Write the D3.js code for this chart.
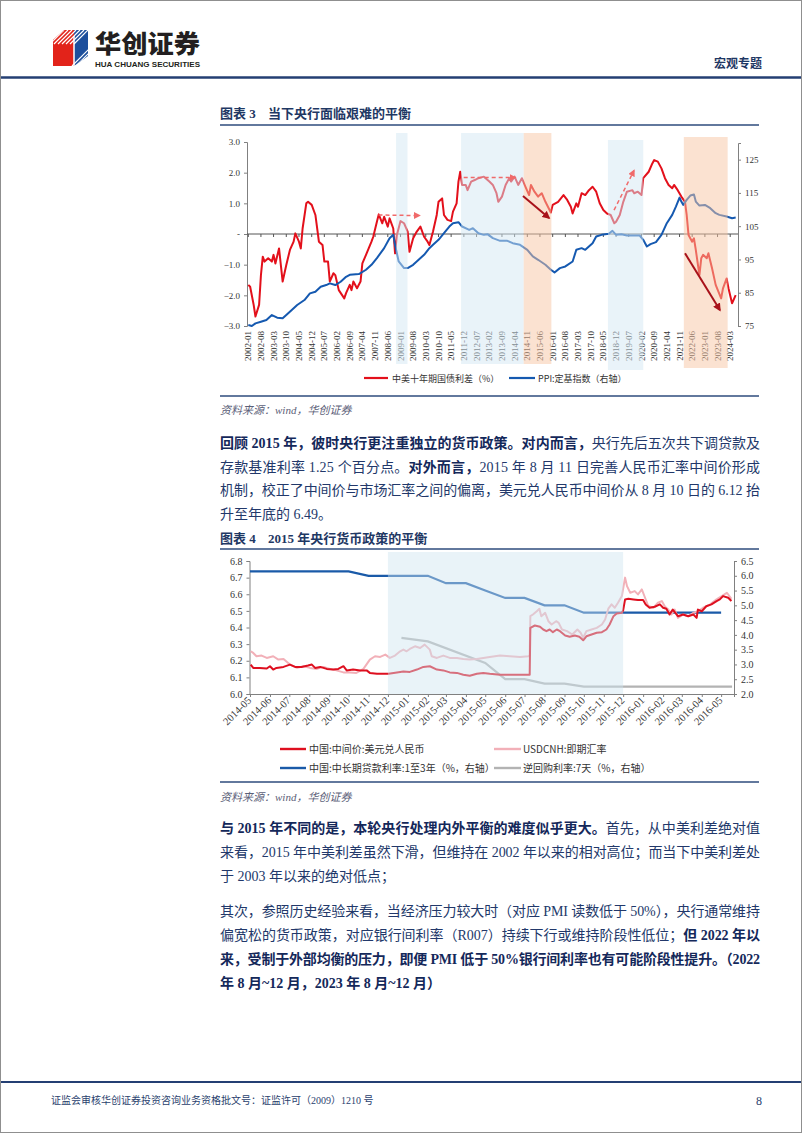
<!DOCTYPE html>
<html><head><meta charset="utf-8">
<script src="https://cdn.jsdelivr.net/npm/d3@7/dist/d3.min.js"></script>
<style>body{margin:0;background:#fff}svg{display:block}</style>
</head><body><svg id="page" width="802" height="1133"></svg>
<script>
// ---------------- Chart 1 data (图表3) ----------------
const spreadMonths = ["2002-01","2002-02","2002-04","2002-05","2002-07","2002-08","2002-09","2002-10","2002-12","2003-02","2003-03","2003-04","2003-06","2003-08","2003-10","2003-12","2004-02","2004-03","2004-05","2004-06","2004-07","2004-09","2004-10","2004-12","2005-02","2005-04","2005-06","2005-07","2005-09","2005-10","2005-12","2006-01","2006-03","2006-06","2006-07","2006-09","2006-10","2006-11","2007-01","2007-03","2007-04","2007-06","2007-09","2007-10","2007-12","2008-01","2008-03","2008-04","2008-06","2008-07","2008-09","2008-10","2008-11","2009-01","2009-03","2009-05","2009-06","2009-08","2009-10","2009-12","2010-02","2010-04","2010-05","2010-07","2010-09","2010-10","2010-12","2011-01","2011-03","2011-05","2011-06","2011-08","2011-09","2011-10","2011-11","2012-01","2012-02","2012-04","2012-06","2012-08","2012-11","2013-02","2013-04","2013-06","2013-07","2013-09","2013-11","2014-01","2014-02","2014-04","2014-06","2014-08","2014-10","2014-12","2015-01","2015-03","2015-05","2015-07","2015-09","2015-12","2016-01","2016-04","2016-07","2016-09","2016-11","2016-12","2017-02","2017-03","2017-05","2017-07","2017-09","2017-11","2018-01","2018-03","2018-05","2018-07","2018-09","2018-11","2018-12","2019-02","2019-04","2019-06","2019-09","2019-10","2019-12","2020-02","2020-03","2020-06","2020-08","2020-09","2020-11","2021-01","2021-03","2021-05","2021-07","2021-08","2021-10","2021-12","2022-02","2022-03","2022-04","2022-06","2022-07","2022-08","2022-10","2022-11","2022-12","2023-02","2023-03","2023-05","2023-07","2023-10","2023-11","2024-01","2024-02","2024-04","2024-06"];
const spreadValues = [-1.66,-1.72,-2.31,-2.69,-2.31,-1.34,-0.74,-0.90,-0.79,-0.90,-0.68,-0.96,-0.47,-1.55,-1.01,-0.52,-0.25,0.02,-0.25,-0.47,0.18,1.00,1.05,0.95,0.62,-0.25,-0.36,-0.90,-0.90,-1.55,-1.28,-1.34,-1.83,-2.10,-1.93,-1.66,-1.83,-1.55,-1.77,-1.55,-0.96,-0.68,-0.25,-0.09,0.40,0.64,0.35,0.56,0.24,0.51,0.18,-0.63,-0.03,0.42,0.35,0.08,-0.58,-0.14,0.08,0.24,-0.09,-0.25,-0.36,0.08,0.62,1.05,1.16,0.62,0.46,0.42,0.73,1.00,1.71,2.03,1.60,1.60,1.43,1.71,1.76,1.82,1.87,1.71,1.60,1.33,1.05,1.22,1.60,1.82,1.71,1.87,1.60,1.82,1.54,1.27,1.60,1.38,1.22,1.33,1.05,0.70,0.95,1.05,1.27,1.11,0.89,0.67,1.00,0.89,1.33,1.27,1.43,1.54,1.38,1.00,0.78,0.67,0.62,0.35,0.40,0.62,1.05,1.38,1.43,1.33,1.38,1.27,1.82,2.03,2.30,2.41,2.36,2.14,1.82,1.60,1.49,1.60,1.43,1.22,1.05,0.62,-0.03,-0.25,-0.14,-0.52,-1.34,-0.79,-0.68,-0.79,-0.63,-1.12,-1.66,-2.10,-1.77,-1.45,-1.77,-2.26,-1.99];

const ppiMonths = ["2002-01","2002-03","2002-05","2002-08","2002-11","2003-02","2003-05","2003-08","2003-10","2004-01","2004-04","2004-08","2004-11","2005-02","2005-05","2005-08","2005-10","2006-01","2006-04","2006-07","2006-09","2007-02","2007-06","2007-09","2007-12","2008-04","2008-07","2008-09","2008-10","2008-12","2009-03","2009-05","2009-08","2009-11","2010-02","2010-05","2010-07","2010-10","2011-01","2011-04","2011-06","2011-09","2011-11","2012-03","2012-05","2012-08","2012-11","2013-01","2013-04","2013-08","2013-12","2014-03","2014-07","2014-11","2015-02","2015-05","2015-09","2015-12","2016-02","2016-05","2016-08","2016-12","2017-02","2017-05","2017-07","2017-11","2018-01","2018-04","2018-08","2018-10","2018-12","2019-03","2019-06","2019-10","2020-01","2020-03","2020-05","2020-07","2020-10","2021-01","2021-04","2021-07","2021-09","2021-11","2021-12","2022-01","2022-03","2022-05","2022-07","2022-08","2022-10","2023-01","2023-04","2023-07","2023-09","2024-01","2024-04","2024-06"];
const ppiValues = [75.3,75.0,75.8,76.3,76.8,78.3,77.5,77.3,78.3,79.8,81.3,82.8,84.8,85.3,86.8,87.3,87.8,87.3,88.3,89.8,90.4,90.6,91.9,93.4,95.4,98.4,101.4,102.4,99.4,94.4,92.4,92.4,93.4,94.9,96.4,98.4,99.4,100.9,102.9,104.9,105.9,106.2,104.9,103.9,104.4,102.9,102.4,102.6,101.4,100.6,100.6,99.9,99.4,97.9,95.9,94.9,93.4,91.9,91.1,92.4,92.9,94.4,97.9,98.4,97.9,99.9,101.9,102.4,102.7,103.6,102.4,102.6,102.2,102.2,102.2,100.9,98.9,99.6,100.2,102.4,105.9,108.4,110.9,113.6,112.4,111.4,112.9,114.2,114.5,112.4,111.2,111.4,110.4,108.9,108.4,107.9,107.4,107.6];

const chart1TickLabels = ["2002-01","2002-08","2003-03","2003-10","2004-05","2004-12","2005-07","2006-02","2006-09","2007-04","2007-11","2008-06","2009-01","2009-08","2010-03","2010-10","2011-05","2011-12","2012-07","2013-02","2013-09","2014-04","2014-11","2015-06","2016-01","2016-08","2017-03","2017-10","2018-05","2018-12","2019-07","2020-02","2020-09","2021-04","2021-11","2022-06","2023-01","2023-08","2024-03"];
const leftTicks1 = [-3,-2,-1,0,1,2,3];
const rightTicks1 = [75,85,95,105,115,125];

const shadeStarts = ["2008-10-18","2011-10-15","2014-09-01","2018-07-18","2022-01-12"];
const shadeEnds   = ["2009-04-28","2014-09-01","2015-12-10","2020-03-01","2024-01-18"];
const shadeKinds  = ["blue","blue","orange","blue","orange"];

const arrowFromDates = ["2007-12-28","2011-11-28","2018-10-28","2014-08-20","2022-02-01"];
const arrowFromVals  = [0.62,1.84,0.78,1.24,-0.63];
const arrowToDates   = ["2009-11-15","2014-04-10","2019-09-28","2015-11-01","2023-09-10"];
const arrowToVals    = [0.60,1.84,2.07,0.52,-2.48];
const arrowKinds     = ["dash","dash","dash","solid","solid"];

const legend1 = ["中美十年期国债利差（%）","PPI:定基指数（右轴）"];

// ---------------- Chart 2 data (图表4) ----------------
const cnyDates = ["2014-05-02","2014-05-06","2014-05-16","2014-05-27","2014-06-01","2014-06-06","2014-06-11","2014-06-22","2014-07-02","2014-07-10","2014-07-20","2014-07-30","2014-08-05","2014-08-10","2014-08-18","2014-08-28","2014-09-07","2014-09-15","2014-09-23","2014-09-28","2014-10-08","2014-10-19","2014-10-29","2014-11-03","2014-11-14","2014-11-24","2014-12-02","2014-12-15","2014-12-25","2015-01-04","2015-01-15","2015-01-25","2015-02-04","2015-02-15","2015-02-25","2015-03-07","2015-03-18","2015-03-28","2015-04-07","2015-04-18","2015-04-28","2015-05-08","2015-05-24","2015-06-08","2015-06-24","2015-07-09","2015-07-10","2015-07-17","2015-07-25","2015-07-30","2015-08-04","2015-08-09","2015-08-14","2015-08-20","2015-08-25","2015-09-02","2015-09-09","2015-09-17","2015-09-24","2015-09-30","2015-10-05","2015-10-13","2015-10-21","2015-10-29","2015-11-05","2015-11-10","2015-11-16","2015-11-21","2015-11-29","2015-12-01","2015-12-04","2015-12-09","2015-12-17","2015-12-24","2016-01-01","2016-01-05","2016-01-11","2016-01-19","2016-01-27","2016-02-01","2016-02-06","2016-02-11","2016-02-16","2016-02-24","2016-03-03","2016-03-11","2016-03-19","2016-03-24","2016-03-26","2016-04-01","2016-04-08","2016-04-16","2016-04-24","2016-04-29","2016-05-04","2016-05-12","2016-05-17"];
const cnyValues = [6.177,6.157,6.157,6.153,6.167,6.147,6.157,6.163,6.177,6.163,6.163,6.171,6.177,6.157,6.163,6.151,6.147,6.151,6.167,6.142,6.147,6.142,6.142,6.127,6.122,6.122,6.122,6.130,6.136,6.133,6.147,6.163,6.167,6.147,6.142,6.130,6.127,6.116,6.110,6.122,6.127,6.122,6.116,6.116,6.116,6.116,6.398,6.412,6.404,6.388,6.378,6.388,6.372,6.388,6.378,6.352,6.344,6.352,6.344,6.323,6.347,6.358,6.368,6.372,6.388,6.418,6.468,6.484,6.488,6.504,6.569,6.573,6.569,6.565,6.565,6.539,6.519,6.525,6.539,6.519,6.513,6.478,6.508,6.468,6.478,6.468,6.478,6.458,6.508,6.498,6.528,6.539,6.559,6.569,6.589,6.579,6.559];

const cnhDates = ["2014-05-02","2014-05-06","2014-05-11","2014-05-19","2014-05-27","2014-06-06","2014-06-14","2014-06-22","2014-07-02","2014-07-13","2014-07-23","2014-08-02","2014-08-13","2014-08-23","2014-09-02","2014-09-12","2014-09-23","2014-10-03","2014-10-13","2014-10-24","2014-11-03","2014-11-11","2014-11-19","2014-11-27","2014-12-04","2014-12-12","2014-12-20","2014-12-25","2014-12-30","2015-01-04","2015-01-12","2015-01-20","2015-01-27","2015-02-04","2015-02-07","2015-02-15","2015-02-25","2015-03-07","2015-03-18","2015-03-28","2015-04-07","2015-04-18","2015-04-28","2015-05-08","2015-05-24","2015-06-08","2015-06-24","2015-07-07","2015-07-09","2015-07-10","2015-07-14","2015-07-20","2015-07-24","2015-07-27","2015-08-02","2015-08-07","2015-08-12","2015-08-19","2015-08-23","2015-08-28","2015-09-05","2015-09-13","2015-09-21","2015-09-26","2015-09-30","2015-10-05","2015-10-13","2015-10-21","2015-10-29","2015-11-03","2015-11-08","2015-11-13","2015-11-18","2015-11-23","2015-11-29","2015-12-04","2015-12-07","2015-12-12","2015-12-19","2015-12-24","2015-12-30","2016-01-04","2016-01-09","2016-01-17","2016-01-24","2016-01-30","2016-02-04","2016-02-09","2016-02-14","2016-02-19","2016-02-24","2016-03-03","2016-03-11","2016-03-19","2016-03-26","2016-04-03","2016-04-14","2016-04-24","2016-05-02","2016-05-10","2016-05-17"];
const cnhValues = [6.257,6.247,6.227,6.231,6.217,6.227,6.207,6.211,6.177,6.157,6.167,6.157,6.151,6.163,6.151,6.142,6.130,6.130,6.127,6.151,6.207,6.227,6.223,6.237,6.217,6.231,6.257,6.267,6.257,6.271,6.287,6.277,6.297,6.267,6.227,6.217,6.231,6.217,6.217,6.211,6.207,6.211,6.217,6.223,6.231,6.227,6.223,6.227,6.231,6.468,6.478,6.498,6.513,6.468,6.488,6.438,6.418,6.438,6.428,6.388,6.378,6.358,6.388,6.368,6.338,6.378,6.388,6.398,6.418,6.448,6.513,6.539,6.519,6.549,6.589,6.700,6.649,6.609,6.619,6.599,6.629,6.579,6.529,6.519,6.549,6.559,6.525,6.508,6.478,6.508,6.458,6.478,6.468,6.488,6.498,6.519,6.539,6.569,6.589,6.609,6.573];

const loanDates = ["2014-05-01","2014-06-01","2014-07-01","2014-08-01","2014-09-01","2014-10-01","2014-11-01","2014-12-01","2015-01-01","2015-02-01","2015-03-01","2015-04-01","2015-05-01","2015-06-01","2015-07-01","2015-08-01","2015-09-01","2015-10-01","2015-11-01","2015-12-01","2016-01-01","2016-02-01","2016-03-01","2016-04-01","2016-05-01"];
const loanValues = [6.15,6.15,6.15,6.15,6.15,6.15,6.00,6.00,6.00,6.00,5.75,5.75,5.50,5.25,5.25,5.00,5.00,4.75,4.75,4.75,4.75,4.75,4.75,4.75,4.75];

const repoDates = ["2014-12-22","2015-02-01","2015-05-01","2015-06-01","2015-07-01","2015-08-01","2015-09-01","2015-10-01","2016-05-18"];
const repoValues = [3.90,3.78,3.05,2.50,2.50,2.35,2.35,2.25,2.25];

const chart2TickLabels = ["2014-05","2014-06","2014-07","2014-08","2014-09","2014-10","2014-11","2014-12","2015-01","2015-02","2015-03","2015-04","2015-05","2015-06","2015-07","2015-08","2015-09","2015-10","2015-11","2015-12","2016-01","2016-02","2016-03","2016-04","2016-05"];
const leftTicks2 = [6.0,6.1,6.2,6.3,6.4,6.5,6.6,6.7,6.8];
const rightTicks2 = [2.0,2.5,3.0,3.5,4.0,4.5,5.0,5.5,6.0,6.5];
const shade2Start = "2014-12-01", shade2End = "2015-12-01";
const legend2 = ["中国:中间价:美元兑人民币","USDCNH:即期汇率","中国:中长期贷款利率:1至3年（%，右轴）","逆回购利率:7天（%，右轴）"];

// ---------------- drawing ----------------
const svg = d3.select("#page");
const NAVY = "#1f3864", TEXT = "#22386a", BOLD = "#14285a";
const SERIF = "'Liberation Serif','Noto Sans CJK SC',serif";
const SANS = "'Noto Sans CJK SC',sans-serif";
const pM = d3.timeParse("%Y-%m"), pD = d3.timeParse("%Y-%m-%d");

svg.append("rect").attr("width",802).attr("height",1133).attr("fill","#fff");
svg.append("rect").attr("x",0.5).attr("y",0.5).attr("width",801).attr("height",1132)
  .attr("fill","none").attr("stroke","#8f8f8f");

// header logo
const logo = svg.append("g");
logo.append("path").attr("d","M66,30 L88,30 L88,56 L74,66 L66,66 Z").attr("fill","#1d4f9c");
logo.append("path").attr("d","M53,40 L64,30 L74,30 L74,66 L53,66 Z").attr("fill","#e2231a");
const clip = svg.append("clipPath").attr("id","lc");
clip.append("path").attr("d","M53,40 L64,30 L88,30 L88,56 L74,66 L53,66 Z");
const stripes = logo.append("g").attr("clip-path","url(#lc)");
for (let i=0;i<7;i++){
  stripes.append("line").attr("x1",50+i*4).attr("y1",44).attr("x2",64+i*4).attr("y2",30)
    .attr("stroke","#fff").attr("stroke-width",1.2);
  stripes.append("line").attr("x1",72+i*4).attr("y1",66).attr("x2",90+i*4).attr("y2",48)
    .attr("stroke","#fff").attr("stroke-width",1.2);
}
logo.append("line").attr("x1",74).attr("y1",36).attr("x2",74).attr("y2",66).attr("stroke","#fff").attr("stroke-width",1.5);
svg.append("text").attr("x",95).attr("y",53).attr("font-family",SANS).attr("font-weight",900)
  .attr("font-size",25).attr("fill","#231f20").attr("textLength",105).attr("lengthAdjust","spacingAndGlyphs").text("华创证券");
svg.append("text").attr("x",95).attr("y",66.5).attr("font-family","'Liberation Sans Narrow','Liberation Sans',sans-serif").attr("font-weight","bold")
  .attr("font-size",8).attr("fill","#231f20").attr("textLength",105).attr("lengthAdjust","spacingAndGlyphs").text("HUA CHUANG SECURITIES");
svg.append("text").attr("x",714).attr("y",68).attr("font-family",SANS).attr("font-weight",700)
  .attr("font-size",12).attr("fill",NAVY).text("宏观专题");
svg.append("line").attr("x1",1).attr("x2",801).attr("y1",77.5).attr("y2",77.5).attr("stroke","#243f73").attr("stroke-width",2.5);

function hline(y){ svg.append("line").attr("x1",220).attr("x2",759).attr("y1",y).attr("y2",y).attr("stroke","#2e4b7d").attr("stroke-width",1.5); }
function title(y, num, t){
  svg.append("text").attr("x",220).attr("y",y).attr("font-family",SERIF).attr("font-weight","bold").attr("font-size",13).attr("fill",NAVY).text(num);
  svg.append("text").attr("x",268).attr("y",y).attr("font-family",SERIF).attr("font-weight","bold").attr("font-size",13).attr("fill",NAVY).text(t);
}
function source(y){
  svg.append("text").attr("x",220).attr("y",y).attr("font-family",SERIF).attr("font-style","italic")
    .attr("font-size",11).attr("fill","#5b6078").text("资料来源：wind，华创证券");
}
function para(y, segs, justify){
  const t = svg.append("text").attr("x",220).attr("y",y).attr("font-family",SERIF).attr("font-size",14).attr("fill",TEXT);
  segs.forEach(s=>{ t.append("tspan").attr("font-weight", s[1]?"bold":"normal").attr("fill", s[1]?BOLD:TEXT).text(s[0]); });
  if (justify) t.attr("textLength",540).attr("lengthAdjust","spacing");
}

// ---- Chart 1 ----
title(118,"图表 3","当下央行面临艰难的平衡");
hline(125);
const x1 = d3.scaleTime().domain([pD("2001-12-10"), pD("2024-07-10")]).range([247,738]);
const yL1 = d3.scaleLinear().domain([-3,3]).range([326,142]);
const yR1 = d3.scaleLinear().domain([75,130]).range([326,143]);
const c1 = svg.append("g");
const axC = "#808080";
const gl = c1.append("g").attr("transform","translate(247,0)")
  .call(d3.axisLeft(yL1).tickValues(leftTicks1).tickSize(3).tickPadding(4).tickFormat(d=> d===0?"-":d3.format(".1f")(d)));
const gr = c1.append("g").attr("transform","translate(738,0)")
  .call(d3.axisRight(yR1).tickValues(rightTicks1).tickSize(3).tickPadding(4));
[gl,gr].forEach(g=>{ g.select(".domain").attr("stroke",axC); g.selectAll(".tick line").attr("stroke",axC);
  g.selectAll("text").attr("font-family",SERIF).attr("font-size",9).attr("fill","#333"); });
c1.append("line").attr("x1",247).attr("x2",738).attr("y1",yL1(0)).attr("y2",yL1(0)).attr("stroke","#555").attr("stroke-width",1);
chart1TickLabels.forEach(l=>{
  const x = x1(pM(l));
  c1.append("line").attr("x1",x).attr("x2",x).attr("y1",yL1(0)).attr("y2",yL1(0)+3).attr("stroke","#555");
  c1.append("text").attr("transform",`translate(${x+3},331) rotate(-90)`).attr("text-anchor","end")
    .attr("font-family",SERIF).attr("font-size",9).attr("fill","#333").text(l);
});
const lineSpread = d3.line().x((d,i)=>x1(pM(spreadMonths[i]))).y(d=>yL1(d));
const linePPI = d3.line().x((d,i)=>x1(pM(ppiMonths[i]))).y(d=>yR1(d));
c1.append("path").attr("d",lineSpread(spreadValues)).attr("fill","none").attr("stroke","#e3101b").attr("stroke-width",2).attr("stroke-linejoin","round");
c1.append("path").attr("d",linePPI(ppiValues)).attr("fill","none").attr("stroke","#1559b0").attr("stroke-width",2).attr("stroke-linejoin","round");
const shadeTop = [133,133,133,140,137], shadeBot = [364,364,364,370,368];
shadeStarts.forEach((s,i)=>{
  const xa = x1(pD(s)), xb = x1(pD(shadeEnds[i]));
  c1.append("rect").attr("x",xa).attr("width",xb-xa).attr("y",shadeTop[i]).attr("height",shadeBot[i]-shadeTop[i])
    .attr("fill", shadeKinds[i]==="blue" ? "#d3e8f3" : "#f7c6a4").attr("fill-opacity",0.5);
});
const defs = svg.append("defs");
defs.append("marker").attr("id","ahL").attr("viewBox","0 0 10 10").attr("refX",8).attr("refY",5)
  .attr("markerWidth",7).attr("markerHeight",7).attr("orient","auto-start-reverse").attr("markerUnits","userSpaceOnUse")
  .append("path").attr("d","M0,0 L10,5 L0,10 Z").attr("fill","#f06a6a");
defs.append("marker").attr("id","ahD").attr("viewBox","0 0 10 10").attr("refX",8).attr("refY",5)
  .attr("markerWidth",8).attr("markerHeight",8).attr("orient","auto-start-reverse").attr("markerUnits","userSpaceOnUse")
  .append("path").attr("d","M0,0 L10,5 L0,10 Z").attr("fill","#a8121a");
arrowFromDates.forEach((s,i)=>{
  const dash = arrowKinds[i]==="dash";
  c1.append("line").attr("x1",x1(pD(s))).attr("y1",yL1(arrowFromVals[i]))
    .attr("x2",x1(pD(arrowToDates[i]))).attr("y2",yL1(arrowToVals[i]))
    .attr("stroke", dash ? "#f06a6a" : "#a8121a").attr("stroke-width", dash?1.5:2)
    .attr("stroke-dasharray", dash ? "4,3" : null)
    .attr("marker-end", dash ? "url(#ahL)" : "url(#ahD)");
});
const lg1 = [[364,388,"#e3101b",392],[509,535,"#1559b0",538]];
lg1.forEach((l,i)=>{
  c1.append("line").attr("x1",l[0]).attr("x2",l[1]).attr("y1",378).attr("y2",378).attr("stroke",l[2]).attr("stroke-width",2.2);
  c1.append("text").attr("x",l[3]).attr("y",381.5).attr("font-family",SANS).attr("font-size",9).attr("fill","#333").text(legend1[i]);
});
hline(396);
source(414);

para(448,[["回顾 2015 年，彼时央行更注重独立的货币政策。",1],["对内而言，",1],["央行先后五次共下调贷款及",0]],true);
para(471.5,[["存款基准利率 1.25 个百分点。",0],["对外而言，",1],["2015 年 8 月 11 日完善人民币汇率中间价形成",0]],true);
para(495,[["机制，校正了中间价与市场汇率之间的偏离，美元兑人民币中间价从 8 月 10 日的 6.12 抬",0]],true);
para(518.5,[["升至年底的 6.49。",0]],false);

// ---- Chart 2 ----
title(543,"图表 4","2015 年央行货币政策的平衡");
hline(549);
const x2 = d3.scaleTime().domain([pD("2014-05-01"), pD("2016-05-21")]).range([250,734]);
const yL2 = d3.scaleLinear().domain([6.0,6.8]).range([694,561]);
const yR2 = d3.scaleLinear().domain([2.0,6.5]).range([694,561]);
const c2 = svg.append("g");
const g2l = c2.append("g").attr("transform","translate(249.5,0)")
  .call(d3.axisLeft(yL2).tickValues(leftTicks2).tickSize(3).tickPadding(4).tickFormat(d3.format(".1f")));
const g2r = c2.append("g").attr("transform","translate(734,0)")
  .call(d3.axisRight(yR2).tickValues(rightTicks2).tickSize(3).tickPadding(4).tickFormat(d3.format(".1f")));
const g2b = c2.append("g").attr("transform","translate(0,694)")
  .call(d3.axisBottom(x2).tickValues(chart2TickLabels.map(pM)).tickSize(3).tickFormat(""));
[g2l,g2r,g2b].forEach(g=>{ g.select(".domain").attr("stroke",axC); g.selectAll(".tick line").attr("stroke",axC);
  g.selectAll("text").attr("font-family",SERIF).attr("font-size",10).attr("fill","#333"); });
chart2TickLabels.forEach(l=>{
  const x = x2(pM(l));
  c2.append("text").attr("transform",`translate(${x+2},701) rotate(-45)`).attr("text-anchor","end")
    .attr("font-family",SERIF).attr("font-size",10.5).attr("fill","#333").text(l);
});
const mk = (dates, sc) => d3.line().x((d,i)=>x2(pD(dates[i]))).y(d=>sc(d));
c2.append("path").attr("d",mk(loanDates,yR2)(loanValues)).attr("fill","none").attr("stroke","#1a5aa8").attr("stroke-width",2.2);
c2.append("path").attr("d",mk(repoDates,yR2)(repoValues)).attr("fill","none").attr("stroke","#b3b3b3").attr("stroke-width",2.2);
c2.append("path").attr("d",mk(cnhDates,yL2)(cnhValues)).attr("fill","none").attr("stroke","#f2b0b8").attr("stroke-width",2).attr("stroke-linejoin","round");
c2.append("path").attr("d",mk(cnyDates,yL2)(cnyValues)).attr("fill","none").attr("stroke","#de0f1f").attr("stroke-width",2).attr("stroke-linejoin","round");
c2.append("rect").attr("x",x2(pD(shade2Start))).attr("width",x2(pD(shade2End))-x2(pD(shade2Start)))
  .attr("y",552).attr("height",694-552).attr("fill","#cfe5f0").attr("fill-opacity",0.45);
const lg2 = [[280,306,"#de0f1f",309,749],[494,521,"#f2b0b8",523,749],[280,306,"#1a5aa8",309,768],[494,521,"#b3b3b3",523,768]];
lg2.forEach((l,i)=>{
  c2.append("line").attr("x1",l[0]).attr("x2",l[1]).attr("y1",l[4]).attr("y2",l[4]).attr("stroke",l[2]).attr("stroke-width",2.4);
  c2.append("text").attr("x",l[3]).attr("y",l[4]+3.5).attr("font-family",SANS).attr("font-size",10).attr("fill","#333").text(legend2[i]);
});
hline(782);
source(801);

para(833,[["与 2015 年不同的是，本轮央行处理内外平衡的难度似乎更大。",1],["首先，从中美利差绝对值",0]],true);
para(857,[["来看，2015 年中美利差虽然下滑，但维持在 2002 年以来的相对高位；而当下中美利差处",0]],true);
para(881,[["于 2003 年以来的绝对低点；",0]],false);
para(916,[["其次，参照历史经验来看，当经济压力较大时（对应 PMI 读数低于 50%），央行通常维持",0]],true);
para(940,[["偏宽松的货币政策，对应银行间利率（R007）持续下行或维持阶段性低位；",0],["但 2022 年以",1]],true);
para(964,[["来，受制于外部均衡的压力，即便 PMI 低于 50%银行间利率也有可能阶段性提升。（2022",1]],true);
para(988,[["年 8 月~12 月，2023 年 8 月~12 月）",1]],false);

// footer
svg.append("line").attr("x1",1).attr("x2",801).attr("y1",1082).attr("y2",1082).attr("stroke","#243f73").attr("stroke-width",2);
svg.append("text").attr("x",51).attr("y",1104).attr("font-family",SERIF).attr("font-size",10).attr("fill","#2a3f6e")
  .text("证监会审核华创证券投资咨询业务资格批文号：证监许可（2009）1210 号");
svg.append("text").attr("x",756).attr("y",1105).attr("font-family",SERIF).attr("font-size",12).attr("fill","#2a3f6e").text("8");
</script></body></html>
